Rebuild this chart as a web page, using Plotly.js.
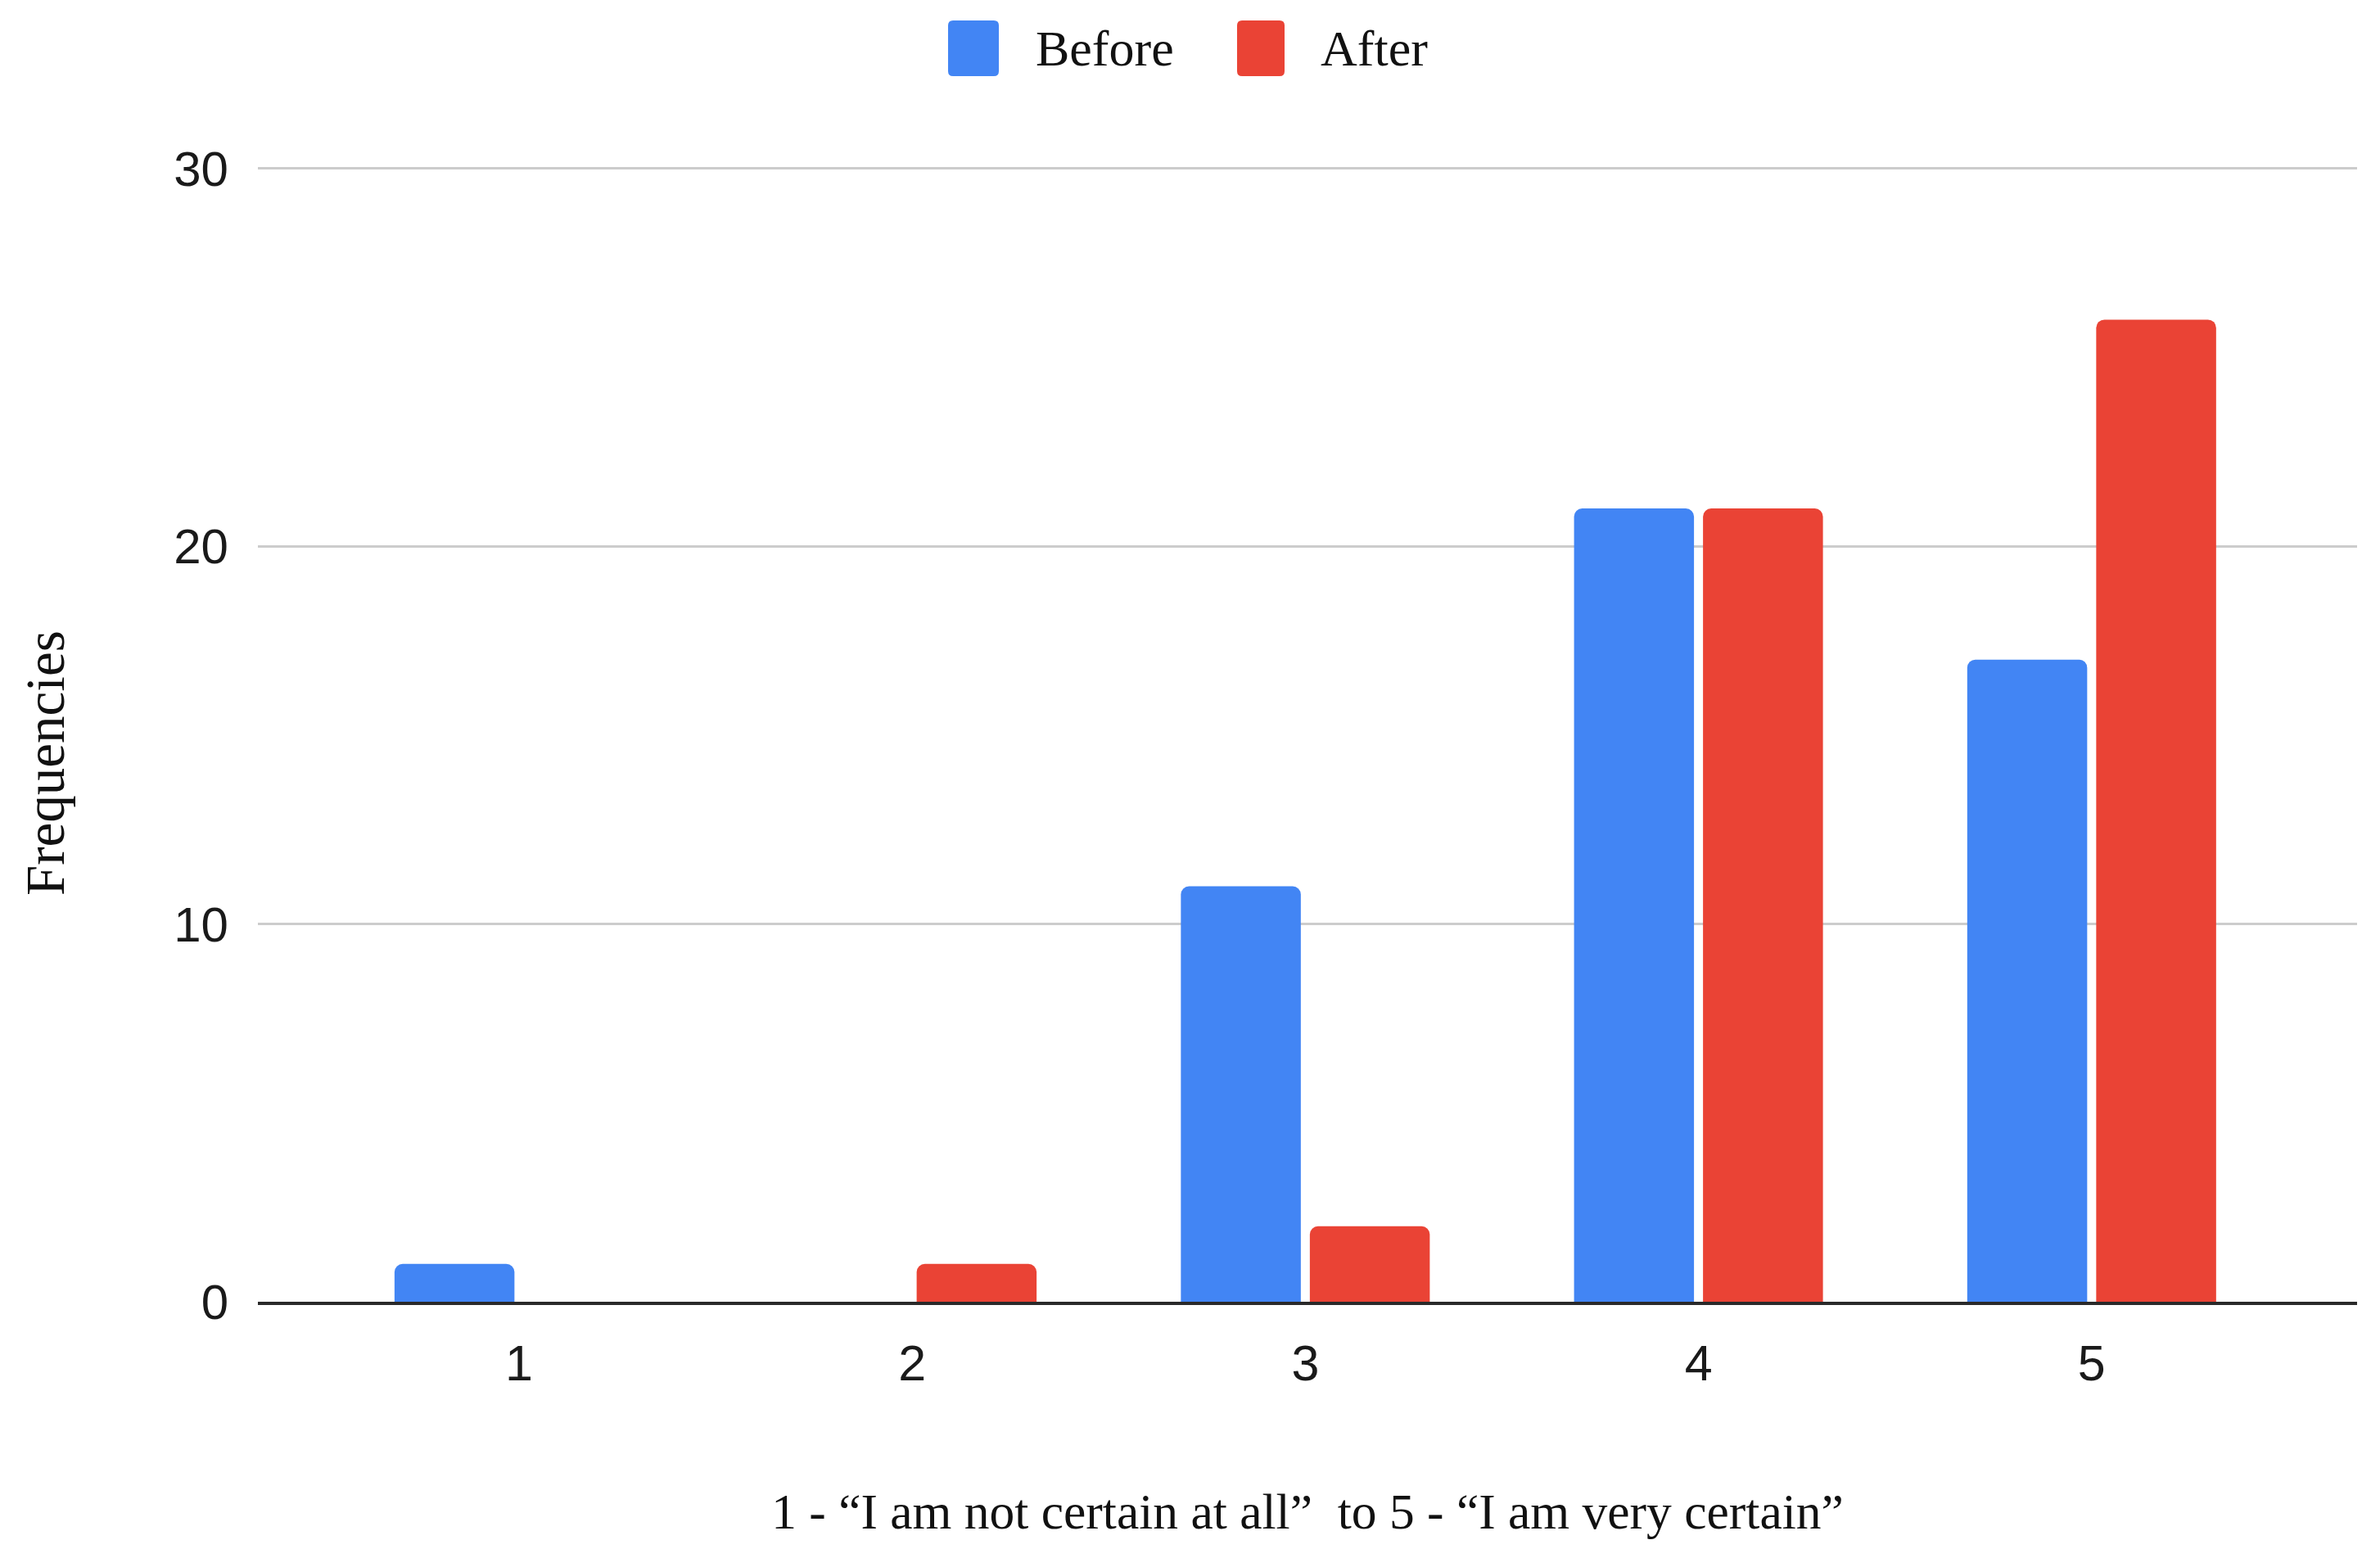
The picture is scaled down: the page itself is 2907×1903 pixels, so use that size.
<!DOCTYPE html>
<html>
<head>
<meta charset="utf-8">
<script src="https://cdn.plot.ly/plotly-3.0.1.min.js"></script>
<style>
  html, body { margin: 0; padding: 0; background: #ffffff; }
  #chart { width: 2907px; height: 1903px; }
</style>
</head>
<body>
<div id="chart"></div>
<script>
// ---- data ----
const categories = ['1', '2', '3', '4', '5'];
const beforeValues = [1, 0, 11, 21, 17];
const afterValues = [0, 1, 2, 21, 26];
const seriesNames = ['Before', 'After'];
const yTickValues = [0, 10, 20, 30];
const xTitle = '1 - \u201CI am not certain at all\u201D  to 5 - \u201CI am very certain\u201D';
const yTitle = 'Frequencies';

// ---- styling ----
const W = 2907, H = 1903;
const M = { l: 315, r: 28, t: 204, b: 313 };
const BLUE = '#4285F4', RED = '#EA4335';
const serif = 'Liberation Serif, Times New Roman, serif';
const sans = 'Liberation Sans, Arial, sans-serif';

const plotW = W - M.l - M.r, plotH = H - M.t - M.b;
const px2x = p => (p - M.l) / plotW;
const px2y = p => (H - M.b - p) / plotH;

function legendBox(x0, x1, y0, y1, color) {
  const r = 6, w = x1 - x0, h = y1 - y0;
  return {
    type: 'path', xref: 'paper', yref: 'paper', layer: 'above',
    xsizemode: 'pixel', ysizemode: 'pixel',
    xanchor: px2x(x0), yanchor: px2y(y1),
    path: `M ${r},0 L ${w - r},0 Q ${w},0 ${w},${r} L ${w},${h - r} Q ${w},${h} ${w - r},${h} L ${r},${h} Q 0,${h} 0,${h - r} L 0,${r} Q 0,0 ${r},0 Z`,
    fillcolor: color, line: { width: 0 }
  };
}

const traces = [
  { type: 'bar', name: seriesNames[0], x: categories, y: beforeValues,
    marker: { color: BLUE, cornerradius: 10, line: { width: 0 } }, hoverinfo: 'x+y+name' },
  { type: 'bar', name: seriesNames[1], x: categories, y: afterValues,
    marker: { color: RED, cornerradius: 10, line: { width: 0 } }, hoverinfo: 'x+y+name' }
];

const layout = {
  width: W, height: H,
  margin: M,
  paper_bgcolor: '#ffffff', plot_bgcolor: '#ffffff',
  showlegend: false,
  barmode: 'group', bargap: 0.344, bargroupgap: 0.07,
  xaxis: {
    type: 'category',
    range: [-0.664, 4.675],
    showgrid: false, zeroline: false,
    showline: true, linecolor: '#2a2a2a', linewidth: 4,
    layer: 'above traces',
    ticks: '', ticklabelstandoff: 19,
    tickfont: { family: sans, size: 61, color: '#1a1a1a' },
    title: { text: xTitle, font: { family: serif, size: 61.5, color: '#111111' }, standoff: 127 },
    fixedrange: true
  },
  yaxis: {
    range: [0, 30.04],
    tickvals: yTickValues,
    showgrid: true, gridcolor: '#cccccc', gridwidth: 3,
    zeroline: false, showline: false,
    ticks: '', ticklabelstandoff: 35,
    tickfont: { family: sans, size: 60, color: '#1a1a1a' },
    fixedrange: true
  },
  shapes: [
    legendBox(1158, 1220, 25, 93, BLUE),
    legendBox(1511, 1569, 25, 93, RED)
  ],
  annotations: [
    { text: seriesNames[0], xref: 'paper', yref: 'paper', x: px2x(1263), y: px2y(59),
      xanchor: 'left', yanchor: 'middle', showarrow: false,
      font: { family: serif, size: 62, color: '#111111' } },
    { text: seriesNames[1], xref: 'paper', yref: 'paper', x: px2x(1611), y: px2y(59),
      xanchor: 'left', yanchor: 'middle', showarrow: false,
      font: { family: serif, size: 62, color: '#111111' } },
    { text: yTitle, xref: 'paper', yref: 'paper', x: px2x(55), y: px2y(932),
      xanchor: 'center', yanchor: 'middle', textangle: -90, showarrow: false,
      font: { family: serif, size: 67, color: '#111111' } }
  ]
};

Plotly.newPlot('chart', traces, layout, { displayModeBar: false, staticPlot: true });
</script>
</body>
</html>
